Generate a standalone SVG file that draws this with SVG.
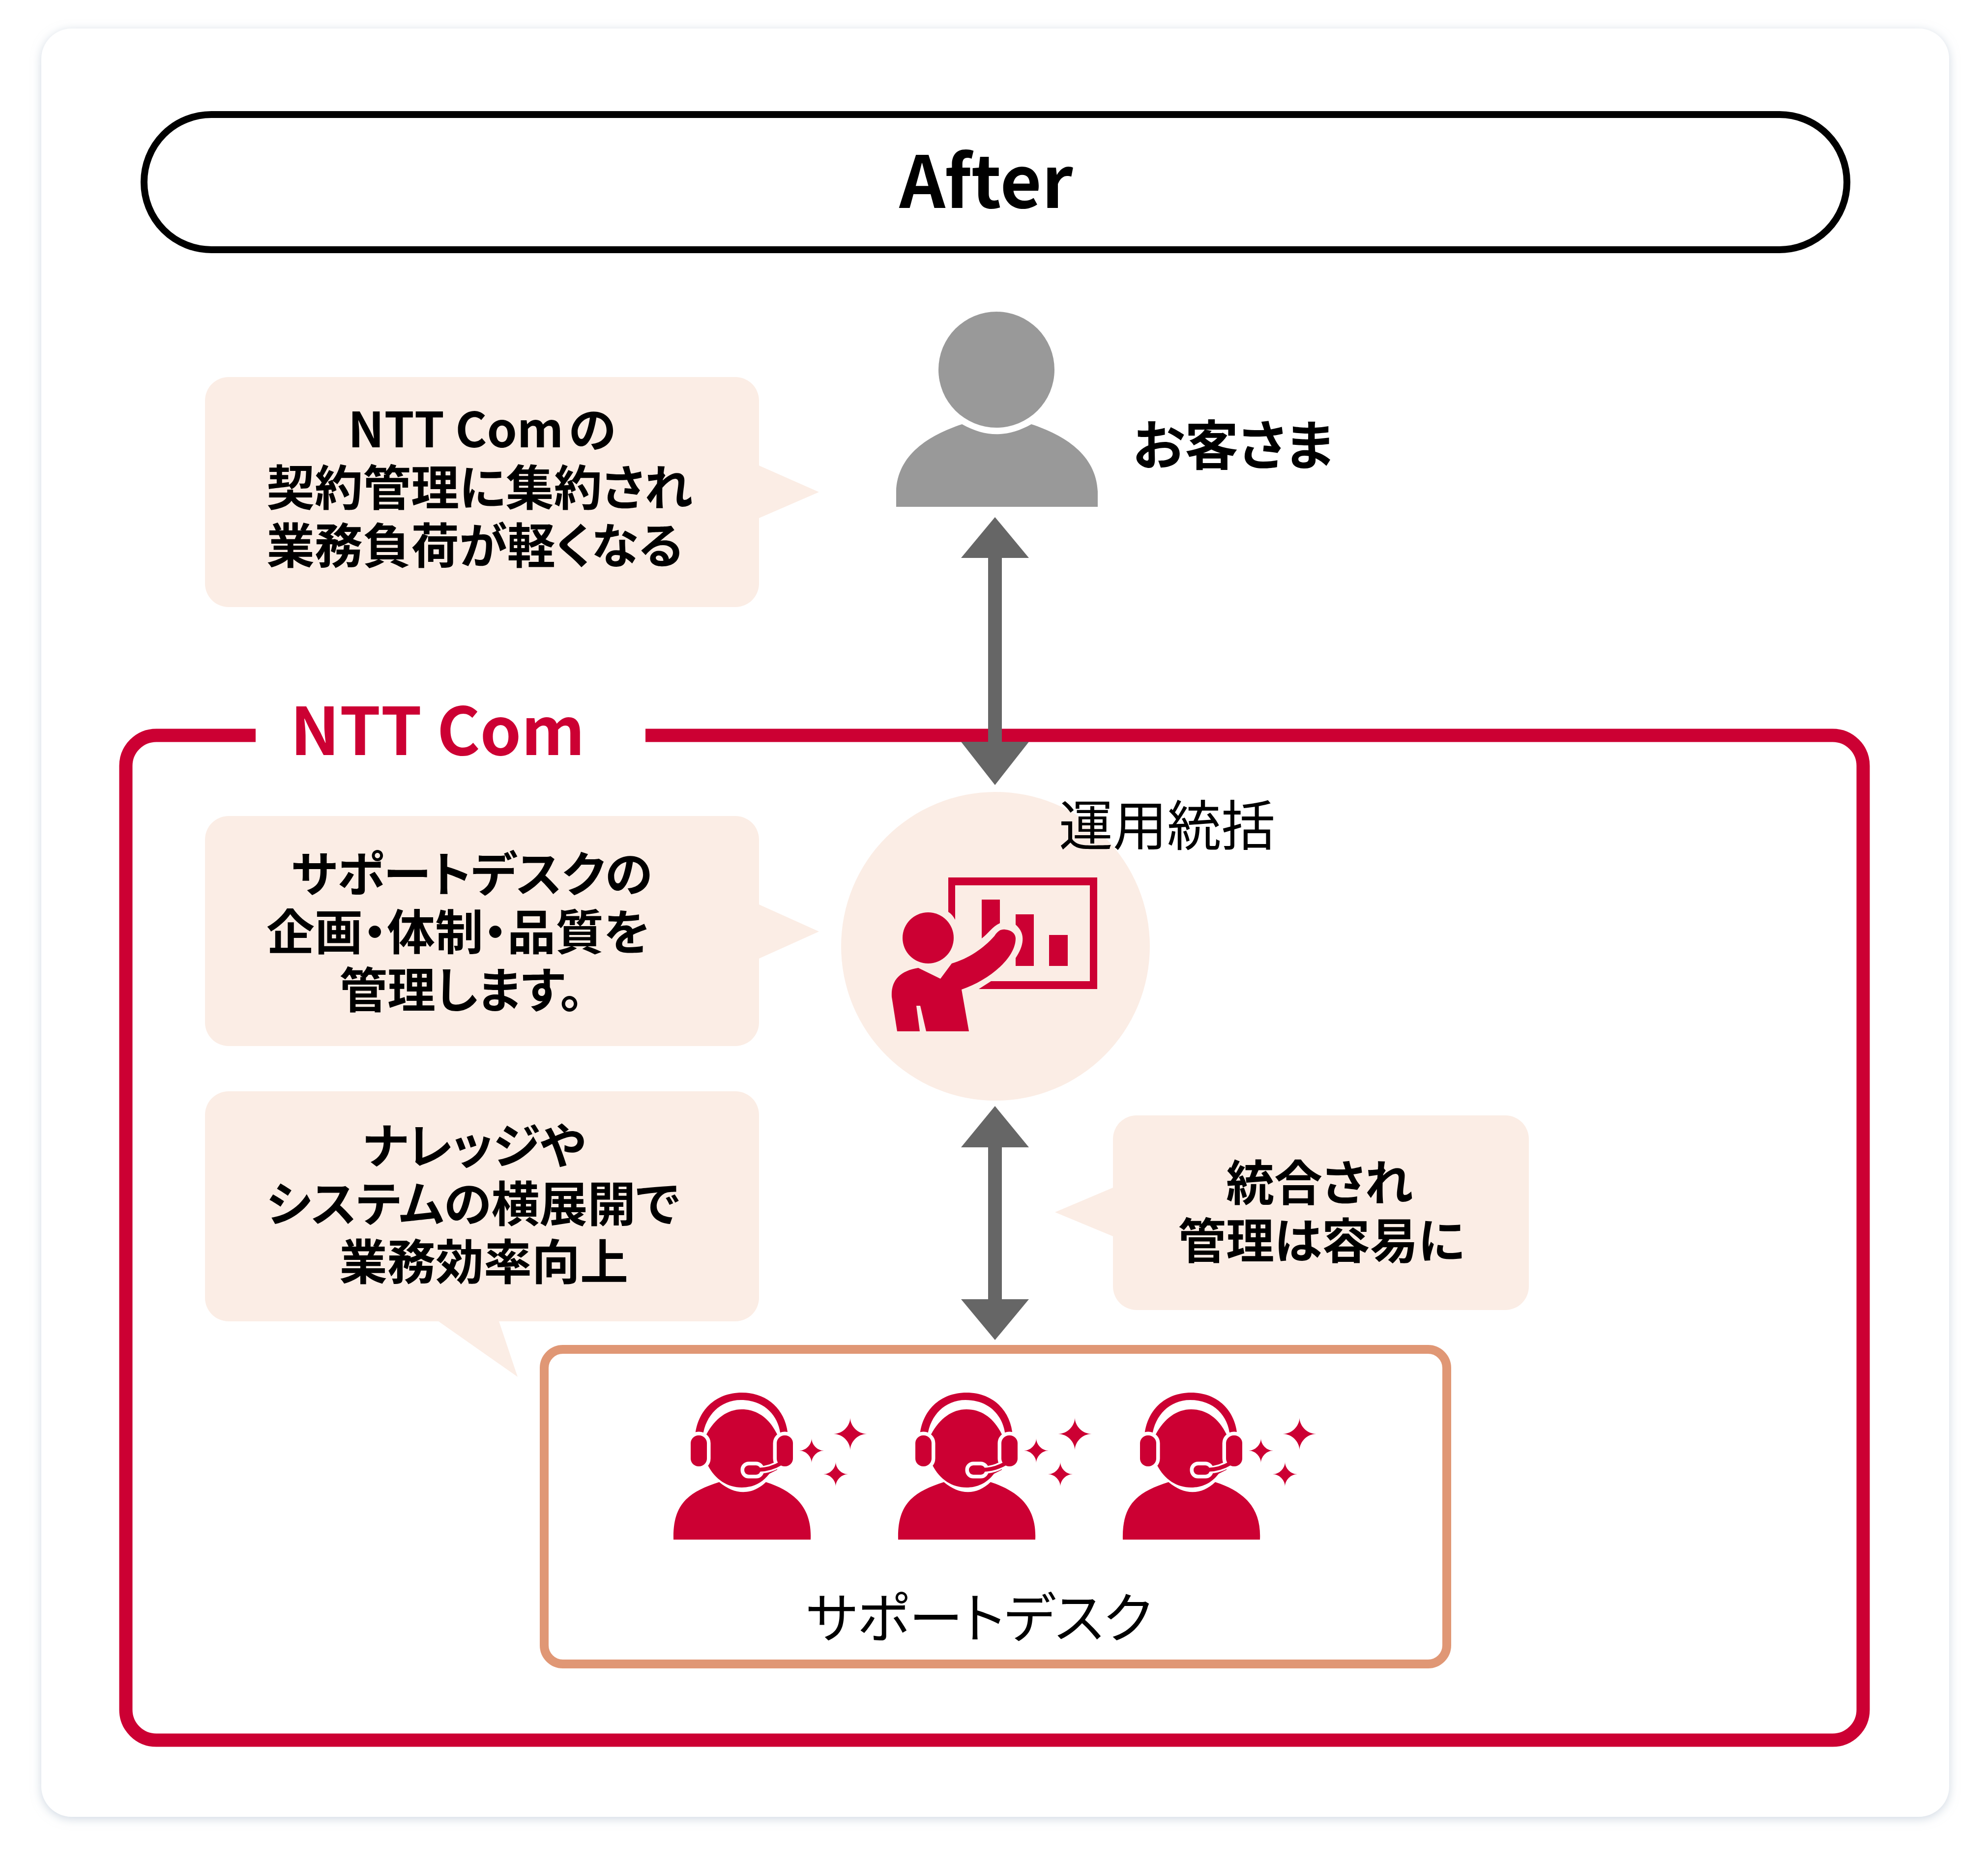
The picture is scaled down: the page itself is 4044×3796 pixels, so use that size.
<svg xmlns="http://www.w3.org/2000/svg" width="4044" height="3796" viewBox="0 0 4044 3796">
<style>
text{font-family:"Noto Sans CJK JP","Noto Sans",sans-serif;fill:#000;font-feature-settings:"palt"}
.b{font-weight:700;font-size:98px}
.r{font-weight:400;font-size:110px}
.bub{fill:#fbede5}
.red{fill:#cc0033}
.ar{fill:#666}
</style>
<defs>
<filter id="sh" x="-5%" y="-5%" width="110%" height="110%"><feDropShadow dx="0" dy="4" stdDeviation="10" flood-color="#a9b8ca" flood-opacity=".55"/></filter>
<path id="spark" d="M0,-1 C0,-.5 .45,0 1,0 C.45,0 0,.5 0,1 C0,.5 -.45,0 -1,0 C-.45,0 0,-.5 0,-1Z"/>
<g id="agent">
<path class="red" d="M1370,3132 C1368,3060 1400,3035 1463,3015 C1495,3042 1530,3042 1558,3015 C1620,3035 1652,3070 1649,3132Z"/>
<path class="red" d="M1437,2918 C1455,2885 1480,2867 1509,2867 C1540,2867 1565,2885 1581,2918 L1581,2990 L1565,2998 C1550,3018 1530,3026 1509,3026 C1480,3026 1455,3010 1440,2981Z"/>
<path class="red" d="M1414,2922 C1418,2870 1455,2833 1509,2833 C1563,2833 1600,2870 1603,2922 L1588,2922 C1585,2880 1555,2848 1507,2848 C1465,2848 1435,2880 1430,2920Z"/>
<g fill="none" stroke="#fff" stroke-width="15" stroke-linejoin="round"><rect x="1405" y="2920" width="33" height="63" rx="16"/><rect x="1580" y="2920" width="33" height="63" rx="16"/><path d="M1545,2990 C1560,2990 1575,2985 1590,2975"/><rect x="1514" y="2981" width="33" height="19" rx="9"/></g>
<g class="red"><rect x="1405" y="2920" width="33" height="63" rx="16"/><rect x="1580" y="2920" width="33" height="63" rx="16"/><rect x="1514" y="2981" width="33" height="19" rx="9"/></g>
<path fill="none" stroke="#cc0033" stroke-width="8" d="M1542,2990 C1560,2990 1575,2985 1590,2976"/>
<use href="#spark" class="red" transform="translate(1729.5,2917) scale(34,33)"/>
<use href="#spark" class="red" transform="translate(1651,2951) scale(25)"/>
<use href="#spark" class="red" transform="translate(1700,2999) scale(25)"/>
</g>
</defs>
<rect width="4044" height="3796" fill="#fff"/>
<rect id="card" x="84" y="58" width="3881" height="3638" rx="62" fill="#fff" filter="url(#sh)"/>
<g id="after"><rect x="293" y="233" width="3464" height="275" rx="137" fill="#fff" stroke="#000" stroke-width="14"/>
<text x="2006" y="423" text-anchor="middle" style="font-weight:700;font-size:146px">After</text></g>
<g id="ntt"><path d="M520,1496 H318 A62,62 0 0 0 256,1558 V3478 A62,62 0 0 0 318,3540 H3728 A62,62 0 0 0 3790,3478 V1558 A62,62 0 0 0 3728,1496 H1313" fill="none" stroke="#cc0033" stroke-width="27"/>
<text x="890" y="1536" text-anchor="middle" style="font-weight:700;font-size:134px;fill:#cc0033">NTT Com</text></g>
<g id="customer"><ellipse cx="2027" cy="752" rx="118" ry="118" fill="#999"/>
<path fill="#999" d="M1823,1031 V1000 C1825,925 1890,885 1957,863 C2005,890 2050,890 2098,863 C2165,885 2230,925 2233,1000 V1031Z"/>
<text class="b" x="2304" y="946" style="font-size:109.5px">お客さま</text></g>
<g id="connectors">
<path class="ar" d="M2024,1052 L2093,1135 H2038 V1509 H2093 L2024,1597 L1955,1509 H2010 V1135 H1955Z"/>
<path class="ar" d="M2024,2250 L2093,2334 H2038 V2643 H2093 L2024,2726 L1955,2643 H2010 V2334 H1955Z"/>
</g>
<g id="b1"><path class="bub" d="M465,767 H1496 A48,48 0 0 1 1544,815 V947 L1666,1001 L1544,1054 V1187 A48,48 0 0 1 1496,1235 H465 A48,48 0 0 1 417,1187 V815 A48,48 0 0 1 465,767Z"/>
<text class="b" x="708" y="910">NTT Com<tspan dx="10">の</tspan></text><text class="b" x="542" y="1028">契約管理に集約され</text><text class="b" x="542" y="1146">業務負荷が軽くなる</text></g>
<g id="b2"><path class="bub" d="M465,1660 H1496 A48,48 0 0 1 1544,1708 V1840 L1666,1895 L1544,1950 V2080 A48,48 0 0 1 1496,2128 H465 A48,48 0 0 1 417,2080 V1708 A48,48 0 0 1 465,1660Z"/>
<text class="b" x="592" y="1814">サポートデスクの</text><text class="b" x="542" y="1932">企画・体制・品質を</text><text class="b" x="690" y="2050">管理します。</text></g>
<g id="b3"><path class="bub" d="M465,2220 H1496 A48,48 0 0 1 1544,2268 V2640 A48,48 0 0 1 1496,2688 H1015 L1053,2801 L892,2688 H465 A48,48 0 0 1 417,2640 V2268 A48,48 0 0 1 465,2220Z"/>
<text class="b" x="738" y="2367">ナレッジや</text><text class="b" x="542" y="2485">システムの横展開で</text><text class="b" x="690" y="2603">業務効率向上</text></g>
<g id="b4"><path class="bub" d="M2312,2269 H3062 A48,48 0 0 1 3110,2317 V2617 A48,48 0 0 1 3062,2665 H2312 A48,48 0 0 1 2264,2617 V2515 L2146,2466 L2264,2416 V2317 A48,48 0 0 1 2312,2269Z"/>
<text class="b" x="2494" y="2442">統合され</text><text class="b" x="2396" y="2560">管理は容易に</text></g>
<g id="ops"><circle cx="2025" cy="1925" r="314" fill="#fbede5"/>
<path class="red" d="M1929,1855 V1785 H2232 V2012 H1991 L2016,1996 H2217 V1801 H1943 V1871 Q1937,1860 1929,1855Z"/>
<path class="red" d="M1997,1830 H2034 V1878 C2018,1885 2010,1900 1997,1909Z"/>
<path class="red" d="M2066,1860 H2103 V1965 H2066 V1949 C2082,1925 2088,1900 2066,1881Z"/>
<path class="red" d="M2134,1902 H2172 V1965 H2134Z"/>
<ellipse class="red" cx="1888" cy="1908" rx="52" ry="52"/>
<path class="red" d="M1868,1969 L1913,1991 L1936,1960 C1970,1950 2000,1930 2023,1904 C2030,1892 2038,1890 2045,1891 C2058,1892 2066,1900 2066,1909 C2066,1950 2010,1995 1956,2013 L1971,2098 H1884 L1872,2046 H1864 L1871,2098 H1825 L1814,2028 C1812,1995 1830,1975 1868,1969Z"/>
<text class="r" x="2154" y="1720">運用統括</text></g>
<g id="desk"><rect x="1107" y="2745" width="1836" height="640" rx="38" fill="#fff" stroke="#e09775" stroke-width="18"/>
<use href="#agent"/><use href="#agent" x="457"/><use href="#agent" x="914"/>
<text class="r" x="1640" y="3332">サポートデスク</text></g>
</svg>
